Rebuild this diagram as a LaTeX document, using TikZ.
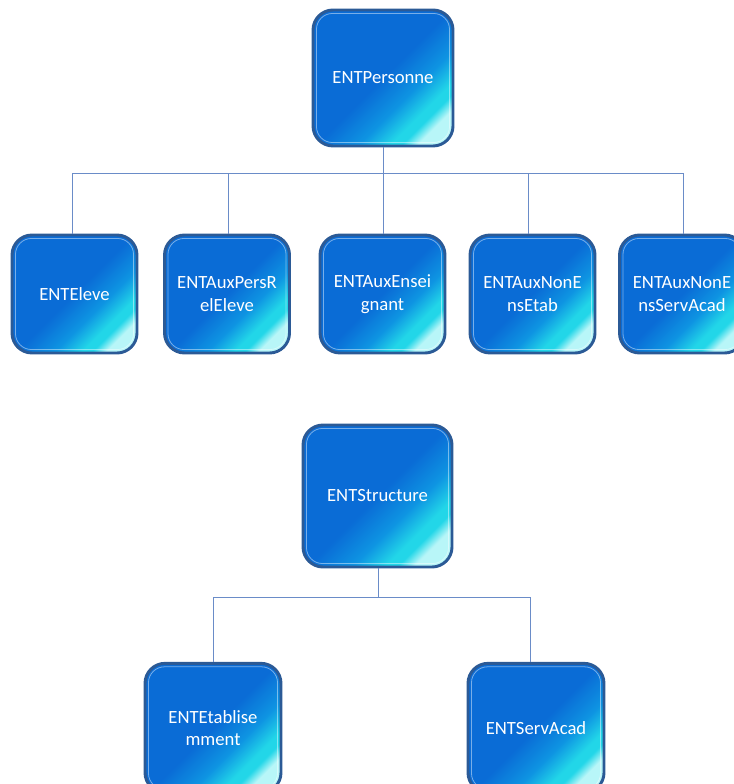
\documentclass[tikz,border=0pt]{standalone}
\usepackage{fontspec}
\setmainfont{Carlito}
\usetikzlibrary{positioning}
\definecolor{bluec}{HTML}{0A6CD6}
\definecolor{midc}{HTML}{0E94E2}
\definecolor{cyanc}{HTML}{22D6E8}
\definecolor{hic}{HTML}{B8F6F8}
\definecolor{edgec}{HTML}{2B5A96}
\definecolor{linec}{HTML}{6A8CC8}
\pgfdeclareverticalshading{boxshade}{100bp}{color(0bp)=(hic); color(24bp)=(hic); color(28bp)=(cyanc); color(31bp)=(cyanc); color(39bp)=(midc); color(50bp)=(bluec); color(100bp)=(bluec)}
\tikzset{
  px/.style={x=0.75pt,y=-0.75pt},
  ent/.style={draw=edgec, line width=2.2pt, rounded corners=15pt,
    shading=boxshade, shading angle=45,
    text=white, font=\fontsize{14}{17}\selectfont, align=center,
    inner sep=0pt,
    path picture={\draw[white, opacity=0.45, line width=0.6pt, rounded corners=12pt]
      ([shift={(2.6pt,-2.6pt)}]path picture bounding box.north west) rectangle
      ([shift={(-2.6pt,2.6pt)}]path picture bounding box.south east);}},
  small/.style={ent, minimum width=93.75pt, minimum height=88.5pt},
  conn/.style={draw=linec, line width=0.6pt}
}
\begin{document}
\begin{tikzpicture}[px]
\useasboundingbox (0,0) rectangle (734,784);
% nodes
\node[ent, minimum width=105pt, minimum height=102pt] (p) at (383,78) {ENTPersonne};
\node[small] (e1) at (74.5,294) {ENTEleve};
\node[small] (e2) at (227,294) {ENTAuxPersR\\elEleve};
\node[small] (e3) at (382.5,294) {ENTAuxEnsei\\gnant};
\node[small] (e4) at (532.5,294) {ENTAuxNonE\\nsEtab};
\node[small] (e5) at (682,294) {ENTAuxNonE\\nsServAcad};
\node[ent, minimum width=111.75pt, minimum height=106.5pt] (s) at (377.5,496) {ENTStructure};
\node[ent, minimum width=102pt, minimum height=97pt] (b1) at (213,728) {ENTEtablise\\mment};
\node[ent, minimum width=102pt, minimum height=97pt] (b2) at (536,728) {ENTServAcad};
% connectors
\coordinate (pj) at (383,173);
\draw[conn] (p.south) -- (pj);
\draw[conn] (e1.north -| 72,0) |- (pj);
\draw[conn] (e5.north -| 683,0) |- (pj);
\draw[conn] (e2.north -| 228,0) -- (228,173);
\draw[conn] (e3.north -| 383,0) -- (pj);
\draw[conn] (e4.north -| 528,0) -- (528,173);
\coordinate (sj) at (378,597);
\draw[conn] (s.south -| sj) -- (sj);
\draw[conn] (b1.north) |- (sj);
\draw[conn] (b2.north -| 530,0) |- (sj);
\end{tikzpicture}
\end{document}
